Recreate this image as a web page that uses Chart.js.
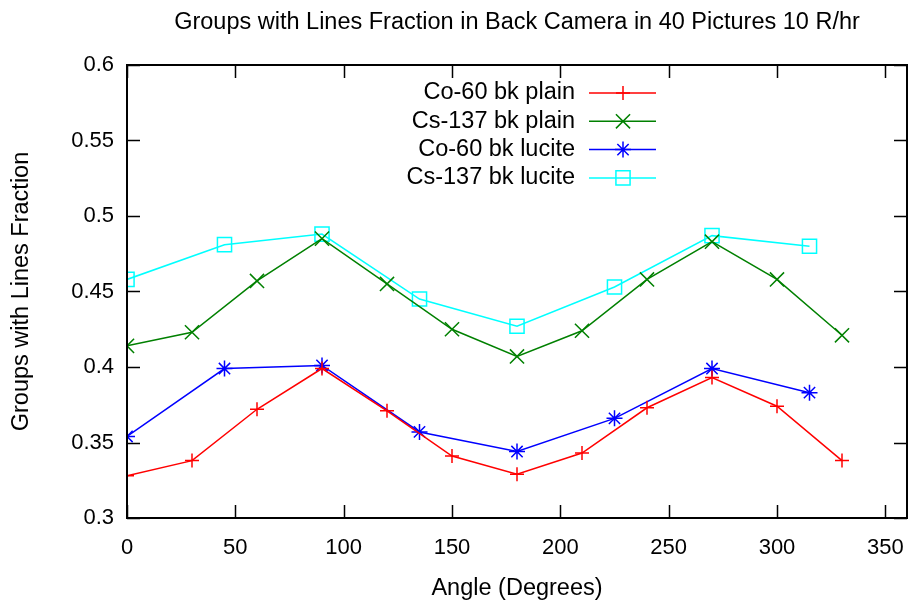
<!DOCTYPE html>
<html>
<head>
<meta charset="utf-8">
<script src="https://cdn.jsdelivr.net/npm/chart.js@4.4.1/dist/chart.umd.min.js"></script>
<style>
    html, body { margin: 0; padding: 0; background: #fff; }
    #wrap { width: 909px; height: 601px; }
</style>
</head>
<body>
<div id="wrap"><canvas id="myChart" width="909" height="601"></canvas></div>
<script>
// angles (degrees)
const plainAngles = [0, 30, 60, 90, 120, 150, 180, 210, 240, 270, 300, 330];
const luciteAngles = [0, 45, 90, 135, 180, 225, 270, 315];

// fractions
const co60Plain = [0.328, 0.338, 0.372, 0.399, 0.371, 0.341, 0.329, 0.343, 0.373, 0.393, 0.374, 0.338];
const cs137Plain = [0.414, 0.423, 0.457, 0.485, 0.455, 0.425, 0.407, 0.424, 0.458, 0.483, 0.458, 0.421];
const co60Lucite = [0.354, 0.399, 0.401, 0.357, 0.344, 0.366, 0.399, 0.383];
const cs137Lucite = [0.458, 0.481, 0.488, 0.445, 0.427, 0.453, 0.487, 0.480];

const seriesNames = ["Co-60 bk plain", "Cs-137 bk plain", "Co-60 bk lucite", "Cs-137 bk lucite"];

const xTicks = [0, 50, 100, 150, 200, 250, 300, 350];
const yTicks = [0.3, 0.35, 0.4, 0.45, 0.5, 0.55, 0.6];

const FONT = "'Liberation Sans', Arial, sans-serif";

const toPoints = (xs, ys) => xs.map((x, i) => ({ x: x, y: ys[i] }));

const makeSet = (label, xs, ys, color, style, radius) => ({
    label: label,
    data: toPoints(xs, ys),
    borderColor: color,
    backgroundColor: "rgba(0,0,0,0)",
    borderWidth: 1.5,
    pointStyle: style,
    pointRadius: radius,
    pointBorderWidth: 1.5,
    pointBorderColor: color,
    pointBackgroundColor: "rgba(0,0,0,0)",
    tension: 0,
    fill: false
});

// gnuplot style frame, inward ticks on all four sides, x labels, titles, legend
const gnuFrame = {
    id: "gnuFrame",
    afterDatasetsDraw(chart) {
        const ctx = chart.ctx;
        const a = chart.chartArea;
        const xs = chart.scales.x;
        const ys = chart.scales.y;
        const tl = 13;
        ctx.save();
        ctx.strokeStyle = "#000";
        ctx.lineWidth = 1.5;
        ctx.beginPath();
        xTicks.forEach((v) => {
            const px = Math.round(xs.getPixelForValue(v)) + 0.5;
            ctx.moveTo(px, a.bottom);
            ctx.lineTo(px, a.bottom - tl);
            ctx.moveTo(px, a.top);
            ctx.lineTo(px, a.top + tl);
        });
        yTicks.forEach((v) => {
            const py = Math.round(ys.getPixelForValue(v)) + 0.5;
            ctx.moveTo(a.left, py);
            ctx.lineTo(a.left + tl, py);
            ctx.moveTo(a.right, py);
            ctx.lineTo(a.right - tl, py);
        });
        ctx.stroke();
        ctx.lineWidth = 2;
        ctx.strokeRect(a.left, a.top, a.right - a.left, a.bottom - a.top);

        // x tick labels
        ctx.fillStyle = "#000";
        ctx.font = "22px " + FONT;
        ctx.textAlign = "center";
        ctx.textBaseline = "middle";
        xTicks.forEach((v) => {
            ctx.fillText(String(v), xs.getPixelForValue(v), 548);
        });

        // titles
        ctx.font = "23.5px " + FONT;
        ctx.fillText("Groups with Lines Fraction in Back Camera in 40 Pictures 10 R/hr", 517, 23);
        ctx.fillText("Angle (Degrees)", (a.left + a.right) / 2, 589);
        ctx.save();
        ctx.translate(22, (a.top + a.bottom) / 2);
        ctx.rotate(-Math.PI / 2);
        ctx.fillText("Groups with Lines Fraction", 0, 0);
        ctx.restore();

        // legend
        ctx.textAlign = "right";
        chart.data.datasets.forEach((ds, i) => {
            const yy = 93 + i * 28.3;
            ctx.fillStyle = "#000";
            ctx.fillText(ds.label, 575, yy);
            ctx.strokeStyle = ds.borderColor;
            ctx.fillStyle = "rgba(0,0,0,0)";
            ctx.lineWidth = 1.5;
            ctx.beginPath();
            ctx.moveTo(589, yy);
            ctx.lineTo(656, yy);
            ctx.stroke();
            Chart.helpers.drawPoint(ctx, {
                pointStyle: ds.pointStyle,
                radius: ds.pointRadius,
                borderWidth: 1.5,
                rotation: 0
            }, 623, yy);
        });
        ctx.restore();
    }
};

const ctx = document.getElementById("myChart").getContext("2d");
const myChart = new Chart(ctx, {
    type: "line",
    data: {
        datasets: [
            makeSet(seriesNames[0], plainAngles, co60Plain, "#ff0000", "cross", 7),
            makeSet(seriesNames[1], plainAngles, cs137Plain, "#008000", "crossRot", 10),
            makeSet(seriesNames[2], luciteAngles, co60Lucite, "#0000ff", "star", 8),
            makeSet(seriesNames[3], luciteAngles, cs137Lucite, "#00ffff", "rect", 10)
        ]
    },
    options: {
        responsive: false,
        animation: false,
        events: [],
        layout: { autoPadding: false, padding: { top: 65, right: 2, left: 0, bottom: 83 } },
        plugins: {
            legend: { display: false },
            title: { display: false },
            tooltip: { enabled: false }
        },
        scales: {
            x: {
                type: "linear",
                display: false,
                min: 0,
                max: 360,
                afterBuildTicks: (s) => { s.ticks = xTicks.map(v => ({ value: v })); }
            },
            y: {
                type: "linear",
                min: 0.3,
                max: 0.6,
                afterBuildTicks: (s) => { s.ticks = yTicks.map(v => ({ value: v })); },
                afterFit: (s) => { s.width = 127; },
                grid: { display: false, drawTicks: false },
                border: { display: false },
                ticks: {
                    padding: 13,
                    color: "#000",
                    font: { family: FONT, size: 22 },
                    callback: (v) => String(Math.round(v * 100) / 100)
                }
            }
        }
    },
    plugins: [gnuFrame]
});
</script>
</body>
</html>
